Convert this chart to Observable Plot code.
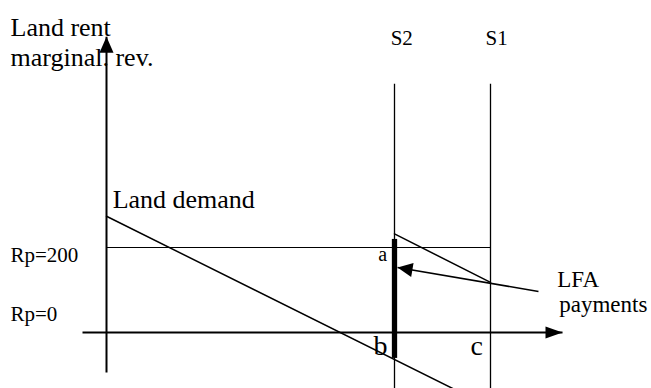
<!DOCTYPE html>
<html><head><meta charset="utf-8">
<script src="https://cdn.jsdelivr.net/npm/d3@7"></script>
<script src="https://cdn.jsdelivr.net/npm/@observablehq/plot@0.6"></script>
<style>html,body{margin:0;padding:0;background:#fff;} svg{display:block;} svg text{font-family:"Liberation Serif", serif;}</style>
</head><body><div id="chart"></div>
<script>
// ---- data (quantity of land on x, rent on y) ----
const supplyNames = ["S2", "S1"];
const supplyQuantity = [75, 100];
const supplyTopRent = 584;
const frameBottomRent = -140;
const demandQuantity = [0, 92];
const demandRent = [273.5, -140];
const lfaDemandQuantity = [75, 100];
const lfaDemandRent = [232, 118];
const lfaBarRent = [219, -61];
const rentLevels = [200, 0];
const rentLabels = ["Rp=200", "Rp=0"];
const axisRentRange = [-94, 696];
const axisQuantityRange = [-6.25, 118.75];
const lfaArrowFrom = [112.5, 96.5];
const lfaArrowTo = [75.8, 153];

const labelTexts = ["Land rent", "marginal. rev.", "Land demand", "S2", "S1", "a", "b", "c", "LFA", "payments", "Rp=200", "Rp=0"];
const labelQuantity = [-25, -25, 1.6, 74, 98.7, 70.8, 69.5, 94.8, 117.4, 117.9, -25, -25];
const labelRent = [698.8, 628.2, 294.1, 677.6, 677.6, 169.4, -54.1, -54.1, 105.9, 47.1, 167, 25.9];
const labelSize = [26, 26, 26, 21, 21, 20, 28, 28, 23, 23, 21, 21];

// ---- scales ----
const W = 651, H = 388;
const xDomain = [-106 / 3.84, (W - 106) / 3.84];
const yDomain = [(332 - H) / 0.425, 332 / 0.425];
const xs = Plot.scale({x: {domain: xDomain, range: [0, W]}});
const ys = Plot.scale({y: {domain: yDomain, range: [H, 0]}});

const arrows = [
  {from: [0, axisRentRange[0]], to: [0, axisRentRange[1]]},
  {from: [axisQuantityRange[0], 0], to: [axisQuantityRange[1], 0]},
  {from: lfaArrowFrom, to: lfaArrowTo}
].map(a => {
  const dx = xs.apply(a.to[0]) - xs.apply(a.from[0]);
  const dy = ys.apply(a.to[1]) - ys.apply(a.from[1]);
  return {...a, angle: Math.atan2(dx, -dy) * 180 / Math.PI};
});
const arrowSizes = [{L: 16, Wd: 14}, {L: 17, Wd: 12}, {L: 15, Wd: 14}];
const headSymbol = (L, Wd) => ({draw(ctx) { ctx.moveTo(0, 0); ctx.lineTo(-Wd / 2, L); ctx.lineTo(Wd / 2, L); ctx.closePath(); }});

const supply = supplyNames.map((n, i) => ({name: n, q: supplyQuantity[i]}));
const demand = demandQuantity.map((q, i) => ({q, r: demandRent[i]}));
const lfaDemand = lfaDemandQuantity.map((q, i) => ({q, r: lfaDemandRent[i]}));
const labels = labelTexts.map((t, i) => ({t, q: labelQuantity[i], r: labelRent[i], s: labelSize[i]}));
const serif = "Liberation Serif";

const marks = [
  Plot.ruleX(supply, {x: "q", y1: supplyTopRent, y2: frameBottomRent, stroke: "black", strokeWidth: 1.3, clip: true}),
  Plot.ruleY([rentLevels[0]], {x1: 0, x2: supplyQuantity[1], stroke: "black", strokeWidth: 1}),
  Plot.line(demand, {x: "q", y: "r", stroke: "black", strokeWidth: 1.5, clip: true}),
  Plot.line(lfaDemand, {x: "q", y: "r", stroke: "black", strokeWidth: 1.5}),
  Plot.ruleX([supplyQuantity[0]], {y1: lfaBarRent[0], y2: lfaBarRent[1], stroke: "black", strokeWidth: 5.3}),
  Plot.link(arrows, {x1: d => d.from[0], y1: d => d.from[1], x2: d => d.to[0], y2: d => d.to[1], stroke: "black", strokeWidth: (d, i) => [2, 2, 1.5][i]}),
];
arrows.forEach((a, i) => {
  marks.push(Plot.dot([a], {x: d => d.to[0], y: d => d.to[1], rotate: "angle", symbol: headSymbol(arrowSizes[i].L, arrowSizes[i].Wd), fill: "black", stroke: "none"}));
});
labels.forEach(l => {
  marks.push(Plot.text([l], {x: "q", y: "r", text: "t", textAnchor: "start", lineAnchor: "bottom", fontSize: l.s, fontFamily: serif, fill: "black"}));
});

const chart = Plot.plot({
  width: W, height: H,
  margin: 0,
  x: {domain: xDomain, axis: null},
  y: {domain: yDomain, axis: null},
  style: {fontFamily: serif, background: "white"},
  marks
});
document.getElementById("chart").append(chart);
</script>
</body></html>
